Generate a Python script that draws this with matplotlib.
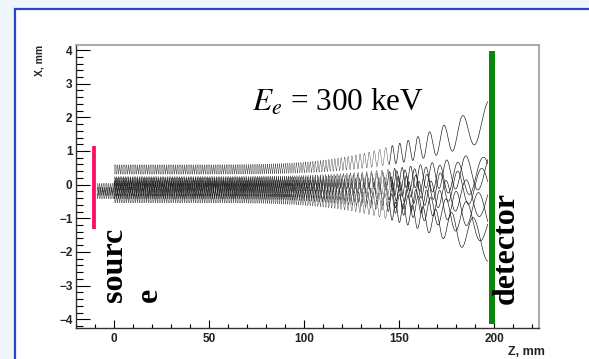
import numpy as np
import matplotlib
matplotlib.use("Agg")
import matplotlib.pyplot as plt
from matplotlib.patches import Rectangle
from matplotlib.ticker import MultipleLocator, FixedLocator

# ---------------- data ----------------
x_major_ticks = [0, 50, 100, 150, 200]
y_major_ticks = [-4, -3, -2, -1, 0, 1, 2, 3, 4]
x_limits = [-20.0, 223.5]
y_limits = [-4.26, 4.15]

source_z = -10.5
source_x = [-1.31, 1.14]
detector_z = 198.6
detector_x = [-4.13, 3.97]

track_z = [0.0, 196.5]
track_center0 = [0.45, 0.10, 0.06, -0.02, -0.10, -0.20, -0.28, -0.40]
track_radius0 = [0.14, 0.14, 0.14, 0.14, 0.14, 0.14, 0.14, 0.14]
track_pitch0 = [0.95, 0.92, 0.98, 0.94, 0.97, 0.91, 0.99, 0.95]
track_end_phase = [-0.3, -1.0, 0.89, 1.26, -1.37, 2.0, -1.57, 3.14]

near_z = [-9.0, 0.0]
near_center = [-0.08, -0.20, -0.30]
near_radius = [0.12, 0.12, 0.12]
near_phase = [0.0, 2.1, 4.2]

field_z0 = 122.8
field_n = 6.0

energy_label = r"$E_e$ = 300 keV"

# ---------------- figure ----------------
plt.rcParams["mathtext.fontset"] = "stix"
fig = plt.figure(figsize=(5.89, 3.59), dpi=100, facecolor="#eef6fa")
frame = Rectangle((15 / 589, -0.2), 1.5, 1.2 - 9 / 359,
                  transform=fig.transFigure, facecolor="white",
                  edgecolor="#2a45c8", linewidth=1.6, zorder=-10)
fig.patches.append(frame)

ax = fig.add_axes([76 / 589, 1 - 328 / 359, (539 - 76) / 589, (328 - 45) / 359])
ax.set_zorder(5)
ax.set_facecolor("white")
ax.set_xlim(*x_limits)
ax.set_ylim(*y_limits)


def field_ratio(z):
    zz = np.clip(z, 0, None)
    return 1.0 / (1.0 + (zz / field_z0) ** field_n)


z = np.linspace(track_z[0], track_z[1], 60000)
b = field_ratio(z)
s = 1.0 / np.sqrt(b)
for c0, r0, lam0, ph in zip(track_center0, track_radius0, track_pitch0, track_end_phase):
    lam = lam0 * s ** 2
    dphi = 2 * np.pi / lam
    phi = np.concatenate([[0], np.cumsum(0.5 * (dphi[1:] + dphi[:-1]) * np.diff(z))])
    x = c0 * s + r0 * s * np.cos(phi - phi[-1] + ph)
    # densely wound part drawn finer (it renders as a grey band), open part darker
    k = int(np.searchsorted(lam, 3.5))
    ax.plot(z[:k + 1], x[:k + 1], color="#111111", lw=0.24, zorder=2)
    ax.plot(z[k:], x[k:], color="#111111", lw=0.45, zorder=2)

zn = np.linspace(near_z[0], near_z[1], 3000)
for c0, r0, ph in zip(near_center, near_radius, near_phase):
    ax.plot(zn, c0 + r0 * np.cos(2 * np.pi * zn / 0.95 + ph), color="#111111", lw=0.24, zorder=2)

ax.plot([source_z, source_z], source_x, color="#ff0a64", lw=2.7, solid_capstyle="butt", zorder=3)
ax.plot([detector_z, detector_z], detector_x, color="#0a870a", lw=4.3, solid_capstyle="butt", zorder=3)

ax.text(72.6, 2.2, energy_label, fontsize=22.5, family="Liberation Serif",
        ha="left", va="baseline", zorder=4)

bold_serif = dict(family="Liberation Serif", fontweight="bold", fontsize=23,
                  rotation=90, rotation_mode="anchor", ha="left", va="baseline")
ax.text(4.4, -3.48, "sourc", **bold_serif)
ax.text(22.6, -3.48, "e", **bold_serif)
ax.text(210.0, -3.56, "detector", **bold_serif)

# axes styling (ROOT-like)
ax.xaxis.set_major_locator(FixedLocator(x_major_ticks))
ax.yaxis.set_major_locator(FixedLocator(y_major_ticks))
ax.xaxis.set_minor_locator(MultipleLocator(10))
ax.yaxis.set_minor_locator(MultipleLocator(0.2))
ax.tick_params(axis="x", which="major", direction="in", length=6, width=0.8, pad=3.5,
               top=False, labelsize=8.5)
ax.tick_params(axis="x", which="minor", direction="in", length=3, width=0.8, top=False)
ax.tick_params(axis="y", which="major", direction="in", length=10, width=0.8, pad=2.5,
               right=False, labelsize=8.5)
ax.tick_params(axis="y", which="minor", direction="in", length=5, width=0.8, right=False)
for lab in ax.get_xticklabels() + ax.get_yticklabels():
    lab.set_family("Liberation Sans")
    lab.set_fontweight("bold")
    lab.set_color("#222222")
for side in ["top", "right"]:
    ax.spines[side].set_color("#9a9a9a")
    ax.spines[side].set_linewidth(1.2)
for side in ["left", "bottom"]:
    ax.spines[side].set_color("#333333")
    ax.spines[side].set_linewidth(1.0)

fig.text(39 / 589, 1 - 45 / 359, "X, mm", rotation=90, ha="center", va="top",
         family="Liberation Sans", fontweight="bold", fontsize=7.5, color="#222222")
fig.text(545 / 589, 1 - 352 / 359, "Z, mm", ha="right", va="center",
         family="Liberation Sans", fontweight="bold", fontsize=9, color="#222222")

fig.savefig("out.png", dpi=100, facecolor=fig.get_facecolor())
